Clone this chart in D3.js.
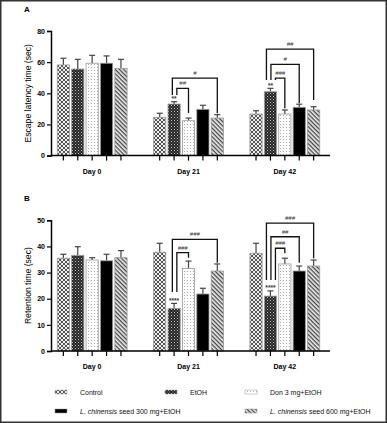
<!DOCTYPE html>
<html>
<head>
<meta charset="utf-8">
<script src="https://cdn.jsdelivr.net/npm/d3@7"></script>
<style>
  body { margin: 0; background: #fff; }
  svg { display: block; }
  text { font-family: "Liberation Sans", Arial, sans-serif; }
</style>
</head>
<body>
<svg id="chart" width="387" height="423"></svg>
<script>
const days = ["Day 0", "Day 21", "Day 42"];
const groups = ["Control", "EtOH", "Don 3 mg+EtOH", "L300", "L600"];

// Panel A: escape latency (mean, top of error bar)
const escapeMean = [
    [58.2, 55.6, 59.3, 59.3, 56.0],
    [24.6, 33.1, 22.4, 29.7, 24.1],
    [26.7, 41.0, 26.7, 31.0, 29.3]
];
const escapeErr = [
    [62.5, 61.8, 64.4, 64.0, 61.8],
    [27.2, 34.6, 24.1, 32.3, 26.3],
    [28.8, 43.2, 29.3, 33.0, 31.4]
];
// Panel B: retention time
const retentionMean = [
    [35.5, 36.6, 34.8, 34.5, 35.7],
    [37.8, 16.3, 31.6, 21.8, 30.6],
    [37.4, 21.0, 33.3, 30.6, 32.5]
];
const retentionErr = [
    [37.0, 39.9, 35.7, 37.0, 38.4],
    [41.2, 18.2, 34.4, 24.0, 33.3],
    [41.2, 23.0, 35.5, 32.5, 34.8]
];
const ticksA = [0, 20, 40, 60, 80];
const ticksB = [0, 10, 20, 30, 40, 50];

// significance vs control (day index, group index, label)
const starsA = [[1, 1, "**"], [2, 1, "**"]];
const starsB = [[1, 1, "****"], [2, 1, "****"]];

// brackets: day, to group, top value, left leg bottom, right leg bottom, label (outer first)
const bracketsA = [
    [1, 4, 49.8, 38.9, 27.2, "#"],
    [1, 2, 43.2, 38.9, 27.4, "##"],
    [2, 4, 68.3, 48.6, 35.7, "##"],
    [2, 3, 58.6, 48.6, 33.6, "#"],
    [2, 2, 49.8, 48.6, 30.4, "###"]
];
const bracketsB = [
    [1, 4, 42.7, 22.6, 33.8, "###"],
    [1, 2, 37.6, 22.6, 35.7, "###"],
    [2, 4, 48.9, 27.2, 35.5, "###"],
    [2, 3, 43.7, 27.2, 33.8, "##"],
    [2, 2, 39.3, 27.2, 37.4, "###"]
];

const legendLabels = [
    ["", "Control"],
    ["", "EtOH"],
    ["", "Don 3 mg+EtOH"],
    ["L. chinensis", " seed 300 mg+EtOH"],
    ["L. chinensis", " seed 600 mg+EtOH"]
];

const svg = d3.select("#chart");

// frame
svg.append("rect")
    .attr("x", 0.75).attr("y", 0.75)
    .attr("width", 385.5).attr("height", 421.5)
    .attr("fill", "none").attr("stroke", "#333").attr("stroke-width", 1.5);

// patterns
const defs = svg.append("defs");

let p = defs.append("pattern").attr("id", "pat0")
    .attr("patternUnits", "userSpaceOnUse").attr("width", 4).attr("height", 4);
p.append("rect").attr("width", 4).attr("height", 4).attr("fill", "#eee");
p.append("path").attr("d", "M0,0L4,4M4,0L0,4")
    .attr("stroke", "#555").attr("stroke-width", 1);

p = defs.append("pattern").attr("id", "pat1")
    .attr("patternUnits", "userSpaceOnUse").attr("width", 3).attr("height", 3);
p.append("rect").attr("width", 3).attr("height", 3).attr("fill", "#222");
p.append("rect").attr("width", 1).attr("height", 1).attr("fill", "#ccc");
p.append("rect").attr("x", 1.5).attr("y", 1.5).attr("width", 1).attr("height", 1).attr("fill", "#999");

p = defs.append("pattern").attr("id", "pat2")
    .attr("patternUnits", "userSpaceOnUse").attr("width", 3).attr("height", 3);
p.append("rect").attr("width", 3).attr("height", 3).attr("fill", "#fff");
p.append("rect").attr("x", 1).attr("y", 1).attr("width", 1).attr("height", 1).attr("fill", "#aaa");

p = defs.append("pattern").attr("id", "pat4")
    .attr("patternUnits", "userSpaceOnUse").attr("width", 3).attr("height", 3)
    .attr("patternTransform", "rotate(45)");
p.append("rect").attr("width", 3).attr("height", 3).attr("fill", "#eee");
p.append("rect").attr("width", 3).attr("height", 1.3).attr("fill", "#444");

const fills = ["url(#pat0)", "url(#pat1)", "url(#pat2)", "#000", "url(#pat4)"];

const x0 = d3.scaleBand().domain(days).range([44, 333]);
const x1 = d3.scaleBand().domain(groups).range([-34.9, 34.9]).paddingInner(0.153);
const barX = (di, gi) => x0(days[di]) + x0.bandwidth() / 2 + x1(groups[gi]);
const barC = (di, gi) => barX(di, gi) + x1.bandwidth() / 2;

function drawPanel(opt) {
    const y = d3.scaleLinear().domain([0, opt.max]).range([opt.bottom, opt.top]);
    const g = svg.append("g");

    // bars
    opt.means.forEach((row, di) => {
        row.forEach((v, gi) => {
            const bx = barX(di, gi), cx = barC(di, gi);
            // error bar
            g.append("line")
                .attr("x1", cx).attr("x2", cx)
                .attr("y1", y(v)).attr("y2", y(opt.errs[di][gi]))
                .attr("stroke", "#444").attr("stroke-width", 1.2);
            g.append("line")
                .attr("x1", cx - 3).attr("x2", cx + 3)
                .attr("y1", y(opt.errs[di][gi])).attr("y2", y(opt.errs[di][gi]))
                .attr("stroke", "#444").attr("stroke-width", 1.2);
            g.append("rect")
                .attr("x", bx).attr("y", y(v))
                .attr("width", x1.bandwidth()).attr("height", y(0) - y(v))
                .attr("fill", fills[gi])
                .attr("stroke", "#999").attr("stroke-width", 0.8);
            // tick under bar
            g.append("line")
                .attr("x1", cx).attr("x2", cx)
                .attr("y1", y(0)).attr("y2", y(0) + 5)
                .attr("stroke", "#000").attr("stroke-width", 1.2);
        });
    });

    // axes
    g.append("line")
        .attr("x1", 51).attr("x2", 330)
        .attr("y1", y(0)).attr("y2", y(0))
        .attr("stroke", "#000").attr("stroke-width", 1.5);

    const yAxis = g.append("g")
        .attr("transform", "translate(51,0)")
        .call(d3.axisLeft(y).tickValues(opt.ticks).tickSize(4).tickPadding(2));
    yAxis.select(".domain").attr("stroke-width", 1.5);
    yAxis.selectAll(".tick line").attr("stroke-width", 1.2);
    yAxis.selectAll("text")
        .attr("font-size", 7).attr("font-weight", "bold")
        .attr("font-family", "Liberation Sans, Arial, sans-serif");

    g.selectAll(".dayLabel")
        .data(days).enter()
        .append("text")
        .attr("x", d => x0(d) + x0.bandwidth() / 2)
        .attr("y", y(0) + 18)
        .attr("text-anchor", "middle")
        .attr("font-size", 7).attr("font-weight", "bold")
        .text(d => d);

    g.append("text")
        .attr("transform", `translate(31,${(opt.top + opt.bottom) / 2}) rotate(-90)`)
        .attr("text-anchor", "middle")
        .attr("font-size", 8.6)
        .text(opt.title);

    g.append("text")
        .attr("x", 27).attr("y", opt.top - 19)
        .attr("text-anchor", "middle")
        .attr("font-family", "Liberation Serif, serif")
        .attr("font-weight", "bold").attr("font-size", 8)
        .text(opt.letter);

    // stars
    opt.stars.forEach(s => {
        g.append("text")
            .attr("x", barC(s[0], s[1]))
            .attr("y", y(opt.errs[s[0]][s[1]]) - 0.5)
            .attr("text-anchor", "middle")
            .attr("font-size", 6.5).attr("font-weight", "bold")
            .attr("fill", "#333")
            .text(s[2]);
    });

    // brackets
    const dayCount = {};
    opt.brackets.forEach(b => {
        const n = opt.brackets.filter(o => o[0] === b[0]).length;
        const i = dayCount[b[0]] || 0;
        dayCount[b[0]] = i + 1;
        const xl = barC(b[0], 1) + (i - (n - 1) / 2) * 4.5 + 0.5;
        const xr = barC(b[0], b[1]);
        g.append("path")
            .attr("d", `M${xl},${y(b[3])}V${y(b[2])}H${xr}V${y(b[4])}`)
            .attr("fill", "none").attr("stroke", "#111").attr("stroke-width", 1.3);
        g.append("text")
            .attr("x", (xl + xr) / 2)
            .attr("y", y(b[2]) - 3)
            .attr("text-anchor", "middle")
            .attr("font-size", 6).attr("font-style", "italic")
            .attr("fill", "#333")
            .text(b[5]);
    });
}

drawPanel({
    means: escapeMean, errs: escapeErr, max: 80, ticks: ticksA,
    top: 31, bottom: 155.6, title: "Escape latency time (sec)", letter: "A",
    stars: starsA, brackets: bracketsA
});
drawPanel({
    means: retentionMean, errs: retentionErr, max: 50, ticks: ticksB,
    top: 220.3, bottom: 351, title: "Retention time (sec)", letter: "B",
    stars: starsB, brackets: bracketsB
});

// legend
const legX = [55, 165, 245, 55, 245];
const legY = [392, 392, 392, 411, 411];
legendLabels.forEach((l, i) => {
    svg.append("rect")
        .attr("x", legX[i]).attr("y", legY[i] - 2)
        .attr("width", 12).attr("height", 4)
        .attr("fill", fills[i]).attr("stroke", "#999").attr("stroke-width", 0.5);
    const t = svg.append("text")
        .attr("x", legX[i] + 25).attr("y", legY[i] + 2.5)
        .attr("font-size", 7).attr("fill", "#111");
    if (l[0]) t.append("tspan").attr("font-style", "italic").text(l[0]);
    t.append("tspan").text(l[1]);
});
</script>
</body>
</html>
